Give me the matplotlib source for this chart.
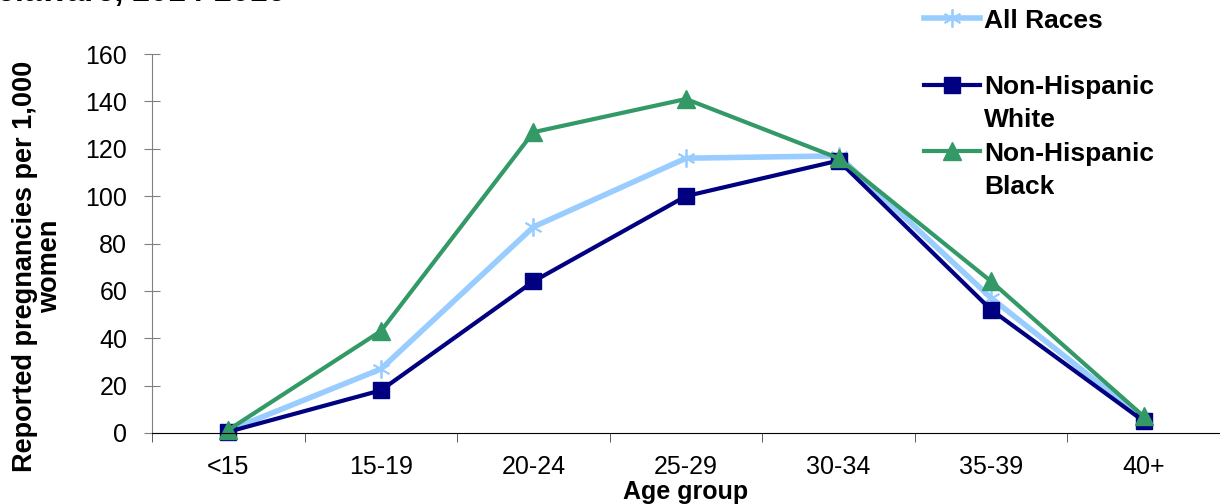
import numpy as np
import matplotlib.pyplot as plt
from matplotlib.lines import Line2D

plt.rcParams['font.family'] = ['Liberation Sans', 'DejaVu Sans']

age_groups = ['<15', '15-19', '20-24', '25-29', '30-34', '35-39', '40+']
all_races = [1, 27, 87, 116, 117, 57, 6]
nh_white = [0.5, 18, 64, 100, 115, 52, 5]
nh_black = [1.3, 43, 127, 141, 116, 64, 7]

fig = plt.figure(figsize=(12.2, 5.04), dpi=100)
ax = fig.add_axes([152 / 1220, 1 - 433 / 504, 1 - 152 / 1220, (433 - 54) / 504])

x = np.arange(len(age_groups))
h1, = ax.plot(x, all_races, color='#99CCFF', lw=4, marker=(6, 2, 0), ms=13,
              mew=1.3, clip_on=False)
h2, = ax.plot(x, nh_white, color='#000080', lw=3, marker='s', ms=12,
              clip_on=False)
h3, = ax.plot(x, nh_black, color='#339966', lw=3, marker='^', ms=13,
              clip_on=False)

ax.set_xlim(-0.5, len(age_groups) - 0.5)
ax.set_ylim(0, 160)
ax.set_yticks(np.arange(0, 161, 20))
ax.set_xticks(x)
ax.set_xticklabels(age_groups)
ax.set_xticks(np.arange(-0.5, len(age_groups)), minor=True)
ax.tick_params(axis='x', which='major', length=0, pad=16, labelsize=18)
ax.tick_params(axis='x', which='minor', length=6.5, direction='out', color='#404040')
ax.tick_params(axis='y', length=11.5, direction='inout', color='#808080',
               pad=12, labelsize=18)

for s in ['top', 'right']:
    ax.spines[s].set_visible(False)
ax.spines['left'].set_color('#808080')
ax.spines['bottom'].set_color('black')

ax.set_xlabel('Age group', fontsize=18, fontweight='bold', labelpad=0.5)
fig.text(38 / 1220, 1 - 266 / 504, 'Reported pregnancies per 1,000\nwomen',
         rotation=90, ha='center', va='center', fontsize=19.5,
         fontweight='bold', linespacing=0.95)

# title cut off at top of the image
fig.text(285 / 1220, 1 - 1.5 / 504, 'Delaware, 2014-2016', ha='right',
         va='baseline', fontsize=23, fontweight='bold')

# legend rows: second lines of labels get an empty handle so markers sit on the first line
blank = Line2D([], [], color='none')
handles = [h1, blank, h2, blank, h3, blank]
labels = ['All Races', ' ', 'Non-Hispanic', 'White', 'Non-Hispanic', 'Black']
fig.legend(handles, labels, loc='upper left', bbox_to_anchor=(921 / 1220, 1 - 6 / 504),
           frameon=False, prop={'weight': 'bold', 'size': 19},
           handlelength=2.15, handletextpad=0.15, labelspacing=0.35,
           borderaxespad=0.0, borderpad=0.1)

fig.savefig('out.png', dpi=100)
